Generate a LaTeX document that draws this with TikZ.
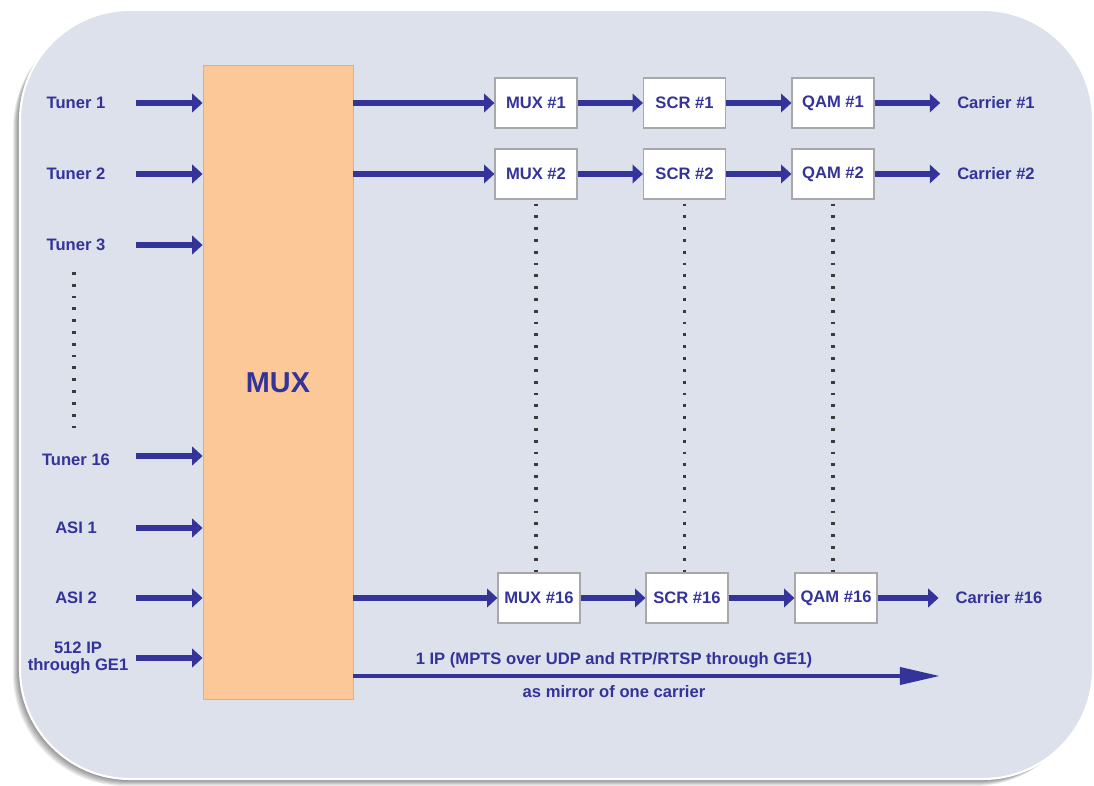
\documentclass[tikz,border=0pt]{standalone}
\usepackage{fontspec}
\setmainfont{Liberation Sans}
\usetikzlibrary{arrows.meta,positioning}
\definecolor{ink}{HTML}{333399}
\definecolor{panel}{HTML}{DCE1EC}
\definecolor{peach}{HTML}{FDC898}
\definecolor{peachline}{HTML}{E5AD7C}
\definecolor{boxline}{HTML}{A8A8A8}
\definecolor{dotgray}{HTML}{3A3A3A}
\tikzset{
  inlabel/.style={
    text=ink,
    font=\fontsize{11.8}{12.2}\selectfont\bfseries,
    align=center,
    inner sep=0pt
  },
  stagebox/.style={
    draw=boxline,
    fill=white,
    line width=0.8pt,
    minimum width=2.05cm,
    minimum height=1.25cm,
    inner sep=0pt,
    text=ink,
    font=\fontsize{11.8}{12.8}\selectfont\bfseries
  },
  muxblock/.style={
    draw=peachline,
    fill=peach,
    line width=0.6pt,
    minimum width=3.75cm,
    minimum height=15.825cm,
    inner sep=0pt,
    text=ink,
    font=\fontsize{20.5}{22}\selectfont\bfseries
  },
  flowar/.style={-{Triangle[length=2.6mm,width=4.6mm]},line width=4.2pt,draw=ink},
  mirrorar/.style={-{Triangle[length=10mm,width=4.2mm]},line width=3pt,draw=ink},
  dotlink/.style={draw=dotgray,line width=2.2pt,dash pattern=on 2pt off 6.4pt}
}

\begin{document}
\begin{tikzpicture}[x=0.025cm,y=-0.025cm]
  \useasboundingbox (0,0) rectangle (1094,786);
  \fill[white] (0,0) rectangle (1094,786);
  % panel with a soft shadow
  \foreach \d in {1,...,7}
    \fill[black, opacity=0.08, rounded corners=2.8cm] (20-\d,10+\d) rectangle (1093-\d,779+\d);
  \fill[panel, rounded corners=2.75cm] (20,10) rectangle (1093,779);
  \draw[white, line width=1.5pt, rounded corners=2.75cm] (20,10) rectangle (1093,779);

  \node[muxblock] (mux) at (278,382.5) {MUX};

  % inputs
  \node[inlabel] (tun1)  at (76,103) {Tuner 1};
  \node[inlabel] (tun2)  at (76,174) {Tuner 2};
  \node[inlabel] (tun3)  at (76,245) {Tuner 3};
  \node[inlabel] (tun16) at (76,460) {Tuner 16};
  \node[inlabel] (asi1)  at (76,528) {ASI 1};
  \node[inlabel] (asi2)  at (76,598) {ASI 2};
  \node[inlabel] (ipin)  at (78,658) {512 IP\\through GE1};

  \foreach \nm/\yy in {tun1/103,tun2/174,tun3/245,tun16/456,asi1/528,asi2/598,ipin/658}{
    \coordinate (s\nm) at (136,\yy);
    \draw[flowar] (s\nm) -- (s\nm -| mux.west);
  }

  \coordinate (vdtop) at (74,272);
  \coordinate (vdbot) at (74,436);
  \draw[dotlink] (vdtop) -- (vdbot);

  % carrier chains
  \node[stagebox] (mux1)  at (536,103) {MUX \#1};
  \node[stagebox] (scr1)  at (684.5,103) {SCR \#1};
  \node[stagebox] (qam1)  at (833,103) {QAM \#1};
  \node[inlabel]  (car1)  at (996,103) {Carrier \#1};

  \node[stagebox] (mux2)  at (536,174) {MUX \#2};
  \node[stagebox] (scr2)  at (684.5,174) {SCR \#2};
  \node[stagebox] (qam2)  at (833,174) {QAM \#2};
  \node[inlabel]  (car2)  at (996,174) {Carrier \#2};

  \node[stagebox] (mux16) at (539,598) {MUX \#16};
  \node[stagebox] (scr16) at (687,598) {SCR \#16};
  \node[stagebox] (qam16) at (836,598) {QAM \#16};
  \node[inlabel]  (car16) at (999,598) {Carrier \#16};

  \foreach \n in {1,2,16}{
    \draw[flowar] (mux.east |- mux\n.west) -- (mux\n.west);
    \draw[flowar] (mux\n) -- (scr\n);
    \draw[flowar] (scr\n) -- (qam\n);
    \draw[flowar, shorten >=0.42cm] (qam\n) -- (car\n);
  }

  \draw[dotlink] ([yshift=-0.1cm]mux2.south) -- (mux2.south |- mux16.north);
  \draw[dotlink] ([yshift=-0.1cm]scr2.south) -- (scr2.south |- scr16.north);
  \draw[dotlink] ([yshift=-0.1cm]qam2.south) -- (qam2.south |- qam16.north);

  % mirror output
  \coordinate (mirrorend) at (940,676);
  \draw[mirrorar] (mux.east |- mirrorend) -- (mirrorend);
  \node[inlabel] (mirtop) at (614,660) {1 IP (MPTS over UDP and RTP/RTSP through GE1)};
  \node[inlabel] (mirbot) at (614,692) {as mirror of one carrier};
\end{tikzpicture}
\end{document}
